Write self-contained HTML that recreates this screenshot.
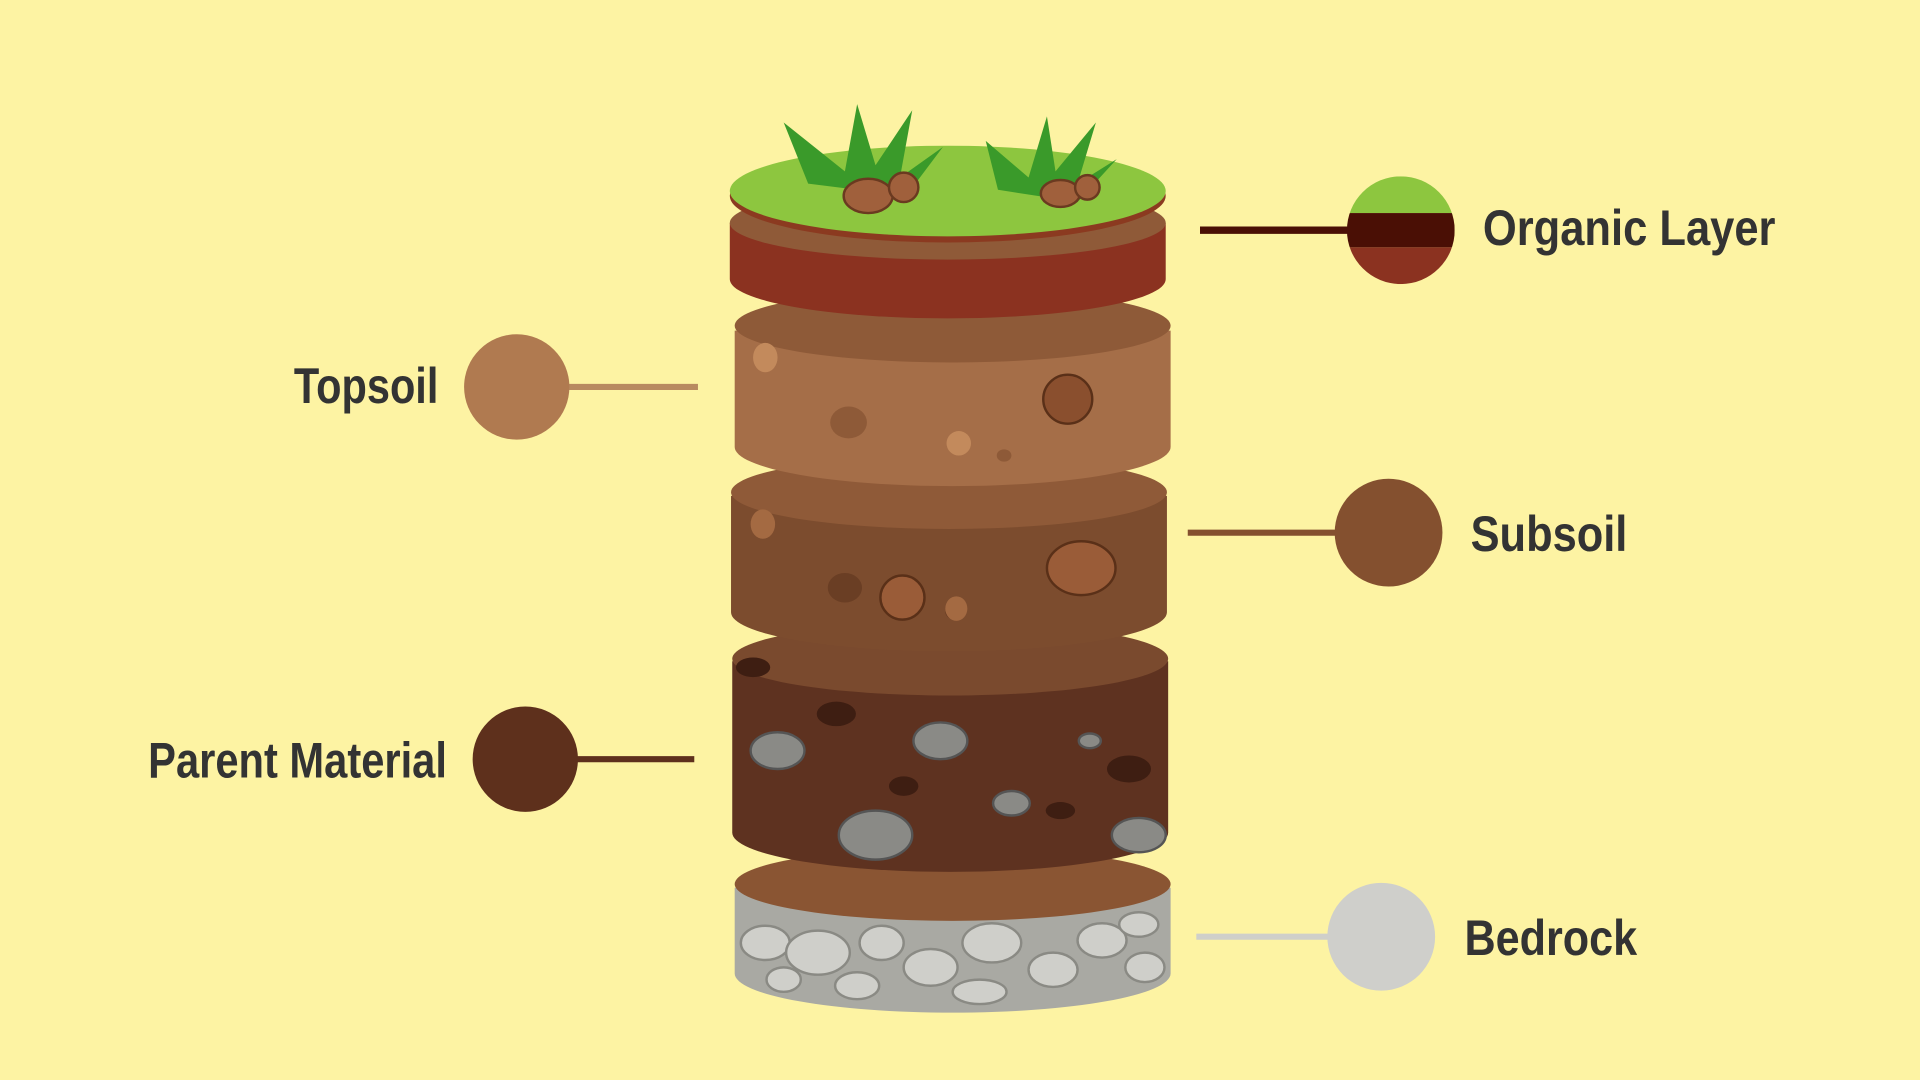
<!DOCTYPE html>
<html><head><meta charset="utf-8"><style>
html,body{margin:0;padding:0;background:#FDF3A3;}
svg{display:block}
text{font-family:"Liberation Sans Narrow","Liberation Sans",sans-serif;font-weight:bold;fill:#333;font-size:41px}
</style></head><body>
<svg width="1920" height="1080" viewBox="0 0 1568 882" xmlns="http://www.w3.org/2000/svg">
<rect width="1568" height="882" fill="#FDF3A3"/>
<!-- Bedrock -->
<path d="M600 725 L600 795 A178 32 0 0 0 956 795 L956 725 Z" fill="#a9a9a3"/>
<g fill="#cfcfca" stroke="#8a8a84" stroke-width="2">
<ellipse cx="625" cy="770" rx="20" ry="14"/><ellipse cx="668" cy="778" rx="26" ry="18"/><ellipse cx="720" cy="770" rx="18" ry="14"/>
<ellipse cx="760" cy="790" rx="22" ry="15"/><ellipse cx="810" cy="770" rx="24" ry="16"/><ellipse cx="860" cy="792" rx="20" ry="14"/>
<ellipse cx="900" cy="768" rx="20" ry="14"/><ellipse cx="935" cy="790" rx="16" ry="12"/><ellipse cx="700" cy="805" rx="18" ry="11"/>
<ellipse cx="800" cy="810" rx="22" ry="10"/><ellipse cx="640" cy="800" rx="14" ry="10"/><ellipse cx="930" cy="755" rx="16" ry="10"/>
</g>
<ellipse cx="778" cy="722" rx="178" ry="30" fill="#8a5533"/>
<!-- Parent material -->
<path d="M598 540 L598 680 A178 32 0 0 0 954 680 L954 540 Z" fill="#5e3220"/>
<ellipse cx="776" cy="538" rx="178" ry="30" fill="#7a4a2e"/>
<g fill="#3e1e12"><ellipse cx="683" cy="583" rx="16" ry="10"/><ellipse cx="922" cy="628" rx="18" ry="11"/><ellipse cx="738" cy="642" rx="12" ry="8"/><ellipse cx="866" cy="662" rx="12" ry="7"/><ellipse cx="615" cy="545" rx="14" ry="8"/></g>
<g fill="#8a8a86" stroke="#555" stroke-width="2"><ellipse cx="635" cy="613" rx="22" ry="15"/><ellipse cx="768" cy="605" rx="22" ry="15"/><ellipse cx="890" cy="605" rx="9" ry="6"/><ellipse cx="826" cy="656" rx="15" ry="10"/><ellipse cx="715" cy="682" rx="30" ry="20"/><ellipse cx="930" cy="682" rx="22" ry="14"/></g>
<!-- Subsoil -->
<path d="M597 405 L597 500 A178 32 0 0 0 953 500 L953 405 Z" fill="#7c4c2e"/>
<ellipse cx="775" cy="402" rx="178" ry="30" fill="#8f5a38"/>
<g fill="#6a3e24"><ellipse cx="690" cy="480" rx="14" ry="12"/><ellipse cx="780" cy="500" rx="8" ry="6"/></g>
<g fill="#a46a42"><ellipse cx="623" cy="428" rx="10" ry="12"/><ellipse cx="781" cy="497" rx="9" ry="10"/></g>
<g fill="#9a5c38" stroke="#5a3018" stroke-width="2"><ellipse cx="737" cy="488" rx="18" ry="18"/><ellipse cx="883" cy="464" rx="28" ry="22"/></g>
<!-- Topsoil -->
<path d="M600 270 L600 365 A178 32 0 0 0 956 365 L956 270 Z" fill="#a56e48"/>
<ellipse cx="778" cy="266" rx="178" ry="30" fill="#8e5a38"/>
<g fill="#8e5a38"><ellipse cx="693" cy="345" rx="15" ry="13"/><ellipse cx="820" cy="372" rx="6" ry="5"/></g>
<g fill="#c38a5c"><ellipse cx="625" cy="292" rx="10" ry="12"/><ellipse cx="783" cy="362" rx="10" ry="10"/></g>
<ellipse cx="872" cy="326" rx="20" ry="20" fill="#8a4f2e" stroke="#5a3018" stroke-width="2"/>
<!-- Organic -->
<path d="M596 182 L596 228 A178 32 0 0 0 952 228 L952 182 Z" fill="#8b3220"/>
<ellipse cx="774" cy="182" rx="178" ry="30" fill="#8f5a38"/>
<ellipse cx="774" cy="160" rx="178" ry="38" fill="#8b3a20"/>
<ellipse cx="774" cy="156" rx="178" ry="37" fill="#8dc63f"/>
<!-- grass -->
<g fill="#3a9a2a">
<path d="M660 150 L640 100 L690 140 L700 85 L715 135 L745 90 L735 145 L770 120 L740 160 Z"/>
<path d="M815 155 L805 115 L840 145 L855 95 L862 140 L895 100 L880 150 L912 130 L880 165 Z"/>
</g>
<g fill="#a0603c" stroke="#6a3a20" stroke-width="2"><ellipse cx="709" cy="160" rx="20" ry="14"/><ellipse cx="738" cy="153" rx="12" ry="12"/><ellipse cx="866" cy="158" rx="16" ry="11"/><ellipse cx="888" cy="153" rx="10" ry="10"/></g>
<!-- Labels -->
<line x1="980" y1="188" x2="1105" y2="188" stroke="#4a0f05" stroke-width="6"/>
<clipPath id="oc"><circle cx="1144" cy="188" r="44"/></clipPath>
<g clip-path="url(#oc)"><rect x="1100" y="144" width="88" height="30" fill="#8dc63f"/><rect x="1100" y="174" width="88" height="28" fill="#4a0f05"/><rect x="1100" y="202" width="88" height="30" fill="#8b3220"/></g>
<text x="1211" y="200" textLength="239" lengthAdjust="spacingAndGlyphs">Organic Layer</text>
<line x1="463" y1="316" x2="570" y2="316" stroke="#B88A60" stroke-width="5"/>
<circle cx="422" cy="316" r="43" fill="#B07A50"/>
<text x="240" y="329" textLength="118" lengthAdjust="spacingAndGlyphs">Topsoil</text>
<line x1="970" y1="435" x2="1095" y2="435" stroke="#84502f" stroke-width="5"/>
<circle cx="1134" cy="435" r="44" fill="#84502f"/>
<text x="1201" y="450" textLength="128" lengthAdjust="spacingAndGlyphs">Subsoil</text>
<line x1="470" y1="620" x2="567" y2="620" stroke="#5e301c" stroke-width="5"/>
<circle cx="429" cy="620" r="43" fill="#5e301c"/>
<text x="121" y="635" textLength="244" lengthAdjust="spacingAndGlyphs">Parent Material</text>
<line x1="977" y1="765" x2="1090" y2="765" stroke="#cfcfca" stroke-width="5"/>
<circle cx="1128" cy="765" r="44" fill="#cfcfcb"/>
<text x="1196" y="780" textLength="141" lengthAdjust="spacingAndGlyphs">Bedrock</text>
</svg>
</body></html>
